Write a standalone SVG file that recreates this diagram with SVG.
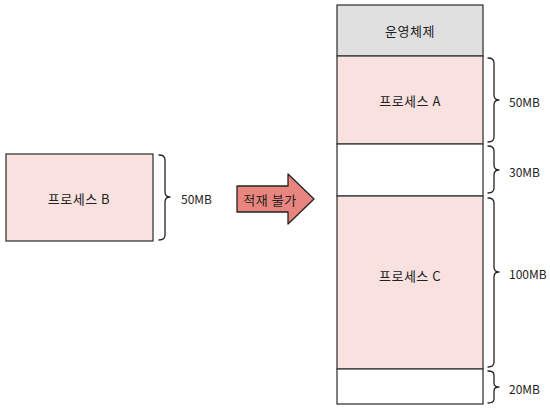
<svg xmlns="http://www.w3.org/2000/svg" width="550" height="409" viewBox="0 0 550 409">
<style>
.box{stroke:#3a3a3a;stroke-width:1.3}
.pink{fill:#f9e1e0}
.gray{fill:#e0e0e0}
.free{fill:#ffffff}
.brace{fill:none;stroke:#222;stroke-width:1.3;stroke-linejoin:round;stroke-linecap:round}
text{font-family:"Noto Sans CJK KR","Noto Sans",sans-serif;font-size:13px;fill:#222;dominant-baseline:central;letter-spacing:0.5px}
.c{text-anchor:middle}
.lbl{font-size:12px;letter-spacing:0}
</style>
<rect width="550" height="409" fill="#ffffff"/>
<g id="processB">
<rect class="box pink" x="6" y="154" width="147" height="87"/>
<text class="c" x="79" y="198">프로세스 B</text>
</g>
<g id="arrow">
<path d="M237,186 L288,186 L288,174 L314,199 L288,224 L288,212 L237,212 Z" fill="#e8857f" stroke="#222" stroke-width="1.3" stroke-linejoin="round"/>
<text class="c" x="270" y="199">적재 불가</text>
</g>
<g id="memory">
<g id="os">
<rect class="box gray" x="337" y="5" width="146" height="51"/>
<text class="c" x="410" y="30">운영체제</text>
</g>
<g id="processA">
<rect class="box pink" x="337" y="56" width="146" height="88"/>
<text class="c" x="410" y="100">프로세스 A</text>
</g>
<g id="free1">
<rect class="box free" x="337" y="144" width="146" height="52"/>
</g>
<g id="processC">
<rect class="box pink" x="337" y="196" width="146" height="173"/>
<text class="c" x="410" y="275">프로세스 C</text>
</g>
<g id="free2">
<rect class="box free" x="337" y="369" width="146" height="35"/>
</g>
</g>
<g id="connectors">
<path class="brace" d="M159,155 Q165,155 165,160 L165,192 Q165,197 170,197 Q165,197 165,202 L165,235 Q165,240 159,240"/>
<path class="brace" d="M488,58 Q494,58 494,63 L494,95 Q494,100 499,100 Q494,100 494,105 L494,137 Q494,142 488,142"/>
<path class="brace" d="M488,146 Q494,146 494,151 L494,165 Q494,170 499,170 Q494,170 494,175 L494,188 Q494,193 488,193"/>
<path class="brace" d="M488,198 Q494,198 494,203 L494,267 Q494,272 499,272 Q494,272 494,277 L494,362 Q494,367 488,367"/>
<path class="brace" d="M488,371 Q494,371 494,375 L494,383 Q494,387 499,387 Q494,387 494,391 L494,399 Q494,403 488,403"/>
</g>
<g id="labels">
<text class="lbl" x="181" y="198">50MB</text>
<text class="lbl" x="509" y="101">50MB</text>
<text class="lbl" x="509" y="171">30MB</text>
<text class="lbl" x="509" y="273">100MB</text>
<text class="lbl" x="509" y="388">20MB</text>
</g>
</svg>
